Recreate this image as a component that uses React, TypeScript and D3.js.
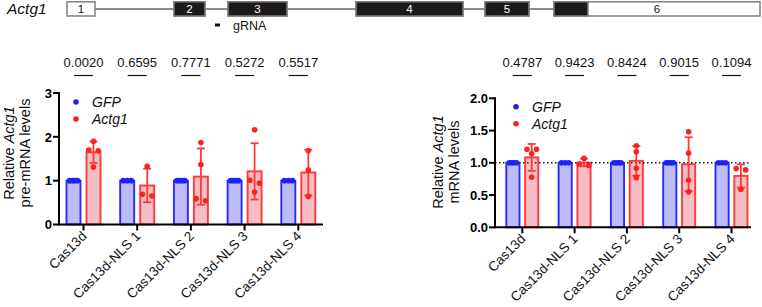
import React from "react";
import * as d3 from "d3";

// ---------- data ----------
const categories = ["Cas13d", "Cas13d-NLS 1", "Cas13d-NLS 2", "Cas13d-NLS 3", "Cas13d-NLS 4"];
const groups = ["GFP", "Actg1"];

const preGFP = [[1, 1, 1, 1], [1, 1, 1], [1, 1, 1, 1], [1, 1, 1, 1], [1, 1, 1]];
const preActg1 = [
  [1.9, 1.7, 1.68, 1.31],
  [1.33, 0.69, 0.65],
  [1.87, 1.37, 0.59, 0.54],
  [2.16, 1.01, 0.94, 0.74],
  [1.68, 1.24, 0.64],
];
const prePValues = ["0.0020", "0.6595", "0.7771", "0.5272", "0.5517"];
const preTicks = [0, 1, 2, 3];

const mGFP = [[1, 1, 1, 1], [1, 1, 1], [1, 1, 1, 1], [1, 1, 1, 1], [1, 1, 1]];
const mActg1 = [
  [1.21, 1.21, 1.14, 0.775],
  [1.07, 0.98, 0.96],
  [1.265, 1.17, 0.915, 0.77],
  [1.48, 1.15, 0.73, 0.55],
  [0.91, 0.89, 0.59],
];
const mPValues = ["0.4787", "0.9423", "0.8424", "0.9015", "0.1094"];
const mTicks = [0, 0.5, 1, 1.5, 2];

// gene structure (relative genomic units)
const exonLabels = ["1", "2", "3", "4", "5", "6"];
const exonStarts = [67, 174, 228, 356, 485, 554];
const exonEnds = [95, 205, 287, 463, 529, 760];
const cdsStarts = [null, 174, 228, 356, 485, 554];
const cdsEnds = [null, 205, 287, 463, 529, 588];
const gRNASite = [215, 220];

// ---------- style ----------
const FONT = "'Liberation Sans', Arial, Helvetica, sans-serif";
const COLORS = {
  GFP: { fill: "#BCBCF9", stroke: "#2A2AFF", dot: "#1E1EFF" },
  Actg1: { fill: "#F4BEC4", stroke: "#FF3A3A", dot: "#FF2020" },
};

function swarmOffsets(values: number[], y: (v: number) => number, bw: number) {
  const idx = values.map((_, i) => i).sort((a, b) => values[b] - values[a]);
  const res = new Array(values.length).fill(0);
  let grp: number[] = [];
  const flush = () => {
    const n = grp.length;
    if (n > 1) {
      const spacing = n === 2 ? 9.5 : Math.min(9.5, (bw - 6) / (n - 1));
      const spread = spacing * (n - 1);
      grp.forEach((k, i) => (res[k] = -spread / 2 + i * spacing));
    }
    grp = [];
  };
  idx.forEach((k) => {
    if (grp.length && Math.abs(y(values[k]) - y(values[grp[grp.length - 1]])) >= 4) flush();
    grp.push(k);
  });
  flush();
  return res;
}

type PanelProps = {
  xFirst: number;
  xLast: number;
  axisLeft: number;
  axisRight: number;
  yMax: number;
  yBottom: number;
  yTop: number;
  ticks: number[];
  fmt: (v: number) => string;
  gfp: number[][];
  actg1: number[][];
  pvals: string[];
  titleLine2: string;
  titleX: number;
  titleY: number;
  legendX: number;
  legendY: number;
  half: number;
  dotted?: boolean;
};

function Panel(p: PanelProps) {
  const x = d3.scalePoint<string>().domain(categories).range([p.xFirst, p.xLast]);
  const sub = d3.scaleBand<string>().domain(groups).range([-p.half, p.half]).paddingInner(0.3);
  const y = d3.scaleLinear().domain([0, p.yMax]).range([p.yBottom, p.yTop]);
  const bw = sub.bandwidth();
  const series: Record<string, number[][]> = { GFP: p.gfp, Actg1: p.actg1 };

  return (
    <g>
      {/* bars */}
      {categories.map((c, ci) =>
        groups.map((g) => {
          const vals = series[g][ci];
          const m = d3.mean(vals) as number;
          const x0 = (x(c) as number) + (sub(g) as number);
          return (
            <rect
              key={c + g}
              x={x0}
              y={y(m)}
              width={bw}
              height={y(0) - y(m)}
              fill={COLORS[g].fill}
              stroke={COLORS[g].stroke}
              strokeWidth={1.9}
            />
          );
        })
      )}
      {p.dotted && (
        <line
          x1={p.axisLeft}
          x2={p.axisRight}
          y1={y(1)}
          y2={y(1)}
          stroke="#222"
          strokeWidth={1.5}
          strokeDasharray="1.5,2.5"
        />
      )}
      {/* error bars */}
      {categories.map((c, ci) =>
        groups.map((g) => {
          const vals = series[g][ci];
          const m = d3.mean(vals) as number;
          const sd = d3.deviation(vals) as number;
          if (!sd) return null;
          const cx = (x(c) as number) + (sub(g) as number) + bw / 2;
          return (
            <g key={"e" + c + g} stroke={COLORS[g].stroke} strokeWidth={1.8}>
              <line x1={cx} x2={cx} y1={y(m - sd)} y2={y(m + sd)} />
              <line x1={cx - 4} x2={cx + 4} y1={y(m + sd)} y2={y(m + sd)} />
              <line x1={cx - 4} x2={cx + 4} y1={y(m - sd)} y2={y(m - sd)} />
            </g>
          );
        })
      )}
      {/* dots */}
      {categories.map((c, ci) =>
        groups.map((g) => {
          const vals = series[g][ci];
          const cx = (x(c) as number) + (sub(g) as number) + bw / 2;
          const offs = swarmOffsets(vals, y, bw);
          return vals.map((v, i) => (
            <circle key={"d" + c + g + i} cx={cx + offs[i]} cy={y(v)} r={2.8} fill={COLORS[g].dot} />
          ));
        })
      )}
      {/* axes */}
      <line x1={p.axisLeft} x2={p.axisLeft} y1={y(0) + 1} y2={y(p.yMax) - 1} stroke="#000" strokeWidth={2} />
      <line x1={p.axisLeft - 1} x2={p.axisRight} y1={y(0)} y2={y(0)} stroke="#000" strokeWidth={2} />
      {p.ticks.map((t) => (
        <g key={"t" + t}>
          <line x1={p.axisLeft - 6} x2={p.axisLeft} y1={y(t)} y2={y(t)} stroke="#000" strokeWidth={2} />
          <text
            x={p.axisLeft - 7}
            y={y(t)}
            dy="0.36em"
            textAnchor="end"
            fontFamily={FONT}
            fontWeight="bold"
            fontSize={13}
            fill="#000"
          >
            {p.fmt(t)}
          </text>
        </g>
      ))}
      {categories.map((c) => (
        <g key={"x" + c}>
          <line x1={x(c)} x2={x(c)} y1={y(0)} y2={y(0) + 6} stroke="#000" strokeWidth={2} />
          <text
            transform={`translate(${(x(c) as number) + 4},${y(0) + 12.5}) rotate(-45)`}
            textAnchor="end"
            fontFamily={FONT}
            fontSize={13.5}
            fill="#111"
          >
            {c}
          </text>
        </g>
      ))}
      {/* p-values */}
      {categories.map((c, ci) => (
        <g key={"p" + c}>
          <text x={x(c)} y={67} textAnchor="middle" fontFamily={FONT} fontSize={13} fill="#111">
            {p.pvals[ci]}
          </text>
          <line x1={(x(c) as number) - 9.5} x2={(x(c) as number) + 9.5} y1={75.5} y2={75.5} stroke="#111" strokeWidth={1.2} />
        </g>
      ))}
      {/* legend */}
      {groups.map((g, gi) => (
        <g key={"l" + g}>
          <circle cx={p.legendX} cy={p.legendY + gi * 17} r={2.8} fill={COLORS[g].dot} />
          <text
            x={p.legendX + 16}
            y={p.legendY + gi * 17}
            dy="0.36em"
            fontFamily={FONT}
            fontStyle="italic"
            fontSize={14}
            fill="#111"
          >
            {g}
          </text>
        </g>
      ))}
      {/* y title */}
      <g transform={`translate(${p.titleX},${p.titleY}) rotate(-90)`} fontFamily={FONT} fontSize={14.5} fill="#111">
        <text x={0} y={0} textAnchor="middle">
          Relative <tspan fontStyle="italic">Actg1</tspan>
        </text>
        <text x={0} y={16} textAnchor="middle">
          {p.titleLine2}
        </text>
      </g>
    </g>
  );
}

function Gene() {
  const gx = d3.scaleLinear().domain([0, 762]).range([0, 762]);
  const top = 1.8;
  const h = 14.2;
  const mid = top + h / 2;
  return (
    <g fontFamily={FONT}>
      <text x={7} y={14} fontStyle="italic" fontSize={15.5} fill="#111">
        Actg1
      </text>
      <line x1={gx(exonEnds[0])} x2={gx(exonStarts[5])} y1={mid} y2={mid} stroke="#8a8a8a" strokeWidth={2} />
      {exonLabels.map((lab, i) => {
        const s = gx(exonStarts[i]);
        const e = gx(exonEnds[i]);
        const cs = cdsStarts[i];
        const ce = cdsEnds[i];
        const full = cs !== null && cs === exonStarts[i] && ce === exonEnds[i];
        return (
          <g key={lab}>
            <rect x={s} y={top} width={e - s} height={h} fill="#fff" stroke="#808080" strokeWidth={1.5} />
            {cs !== null && (
              <rect x={gx(cs)} y={top} width={gx(ce as number) - gx(cs)} height={h} fill="#1c1a1b" stroke="#808080" strokeWidth={1.5} />
            )}
            <text
              x={(s + e) / 2}
              y={mid}
              dy="0.36em"
              textAnchor="middle"
              fontSize={11.5}
              fill={full ? "#fff" : "#111"}
            >
              {lab}
            </text>
          </g>
        );
      })}
      <rect x={gx(gRNASite[0])} y={23.5} width={gx(gRNASite[1]) - gx(gRNASite[0])} height={3} fill="#111" />
      <text x={233} y={25} dy="0.36em" fontSize={12.5} fill="#111">
        gRNA
      </text>
    </g>
  );
}

export default function App() {
  return (
    <svg
      width={762}
      height={307}
      viewBox="0 0 762 307"
      style={{ position: "absolute", left: 0, top: 0, background: "#fff" }}
    >
      <rect width={762} height={307} fill="#fff" />
      <Gene />
      <Panel
        xFirst={83.5}
        xLast={298.3}
        axisLeft={59}
        axisRight={323}
        yMax={3}
        yBottom={224.5}
        yTop={93}
        ticks={preTicks}
        fmt={(v) => d3.format("d")(v)}
        gfp={preGFP}
        actg1={preActg1}
        pvals={prePValues}
        titleLine2="pre-mRNA levels"
        titleX={14}
        titleY={153}
        legendX={76}
        legendY={102}
        half={17}
      />
      <Panel
        xFirst={522.3}
        xLast={731.5}
        axisLeft={495}
        axisRight={751}
        yMax={2}
        yBottom={227.3}
        yTop={98.3}
        ticks={mTicks}
        fmt={(v) => d3.format(".1f")(v)}
        gfp={mGFP}
        actg1={mActg1}
        pvals={mPValues}
        titleLine2="mRNA levels"
        titleX={443}
        titleY={162}
        legendX={516}
        legendY={106.7}
        half={16}
        dotted
      />
    </svg>
  );
}
